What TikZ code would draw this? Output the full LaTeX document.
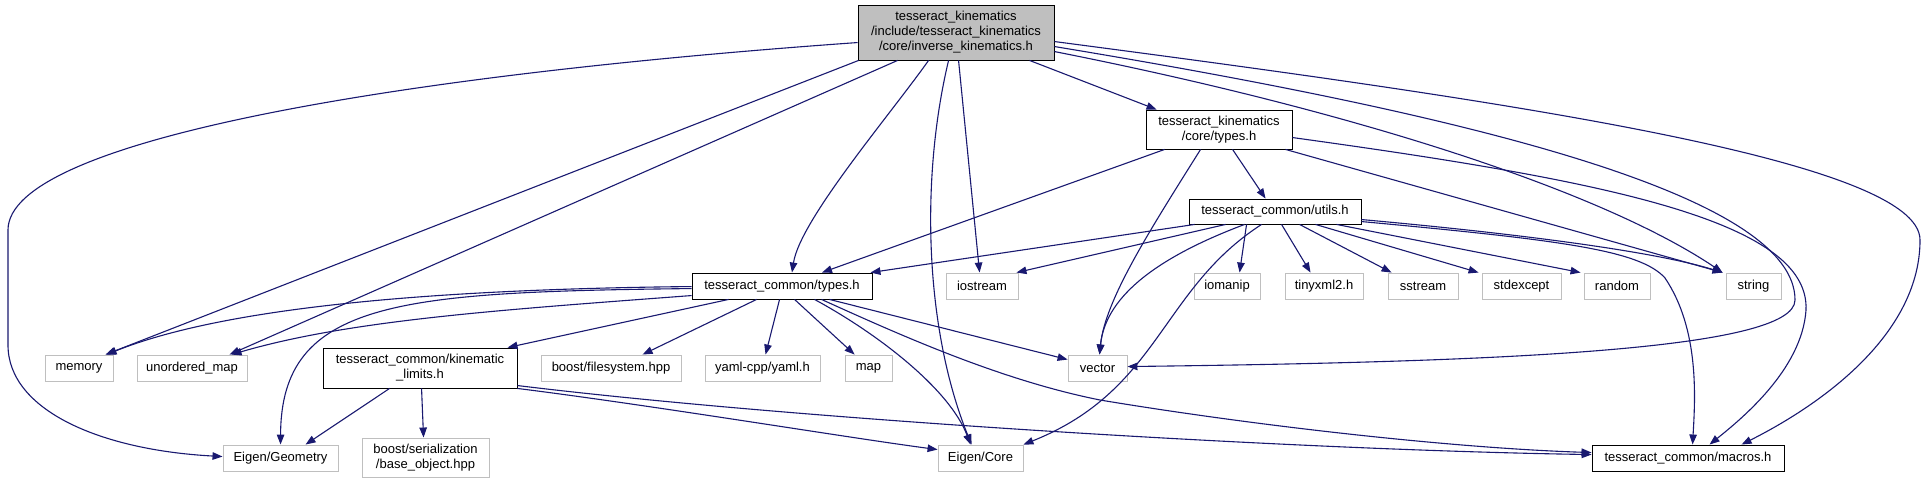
\documentclass[tikz,border=0pt]{standalone}
\usepackage{fontspec}
\setmainfont{Liberation Sans}
\usetikzlibrary{arrows.meta}
\definecolor{nodegrey}{HTML}{BFBFBF}
\definecolor{edgeblue}{HTML}{191970}
\tikzset{
  box/.style={draw, line width=0.9pt, inner sep=0pt, align=center, font=\fontsize{13}{15}\selectfont, text=black},
  gbox/.style={box, draw=nodegrey, fill=white},
  bbox/.style={box, draw=black, fill=white},
  mbox/.style={box, draw=black, fill=nodegrey},
  edge/.style={draw=edgeblue, line width=1.1pt, -{Triangle[length=10pt,width=7.5pt]}},
}
\begin{document}
\begin{tikzpicture}[x=1pt,y=-1pt]
\useasboundingbox[fill=white] (0,0) rectangle (1926,484);
% edges first (under nodes)
\begin{scope}[on background layer/.style={}]
\end{scope}
% nodes
\node[mbox, minimum width=196pt, minimum height=55pt] (main) at (956,32.5) {tesseract\_kinematics\\/include/tesseract\_kinematics\\/core/inverse\_kinematics.h};
\node[bbox, minimum width=146pt, minimum height=39pt] (ktypes) at (1219,129.5) {tesseract\_kinematics\\/core/types.h};
\node[bbox, minimum width=172pt, minimum height=25pt] (utils) at (1275,211.5) {tesseract\_common/utils.h};
\node[bbox, minimum width=180pt, minimum height=26pt] (ctypes) at (782,286) {tesseract\_common/types.h};
\node[gbox, minimum width=72pt, minimum height=26pt] (iostream) at (982,286) {iostream};
\node[gbox, minimum width=66pt, minimum height=26pt] (iomanip) at (1227,286) {iomanip};
\node[gbox, minimum width=78pt, minimum height=26pt] (tinyxml) at (1324,286) {tinyxml2.h};
\node[gbox, minimum width=70pt, minimum height=26pt] (sstream) at (1423,286) {sstream};
\node[gbox, minimum width=79pt, minimum height=26pt] (stdexcept) at (1521.5,286) {stdexcept};
\node[gbox, minimum width=66pt, minimum height=26pt] (random) at (1617,286) {random};
\node[gbox, minimum width=55pt, minimum height=26pt] (string) at (1753.5,286) {string};
\node[gbox, minimum width=68pt, minimum height=26pt] (memory) at (79,368) {memory};
\node[gbox, minimum width=110pt, minimum height=26pt] (umap) at (192,368) {unordered\_map};
\node[bbox, minimum width=194pt, minimum height=40pt] (klimits) at (420,368) {tesseract\_common/kinematic\\\_limits.h};
\node[gbox, minimum width=140pt, minimum height=26pt] (bfs) at (611,368) {boost/filesystem.hpp};
\node[gbox, minimum width=115pt, minimum height=26pt] (yaml) at (762.5,368) {yaml-cpp/yaml.h};
\node[gbox, minimum width=47pt, minimum height=26pt] (map) at (868.5,368) {map};
\node[gbox, minimum width=59pt, minimum height=26pt] (vector) at (1097.5,368) {vector};
\node[gbox, minimum width=115pt, minimum height=26pt] (egeom) at (280.5,458) {Eigen/Geometry};
\node[gbox, minimum width=127pt, minimum height=39pt] (bser) at (425.5,457.5) {boost/serialization\\/base\_object.hpp};
\node[gbox, minimum width=85pt, minimum height=26pt] (ecore) at (980.5,458) {Eigen/Core};
\node[bbox, minimum width=192pt, minimum height=26pt] (macros) at (1688,458) {tesseract\_common/macros.h};

% main edges
\draw[edge] ([yshift=-38pt]main.north west) .. controls (400,75) and (8,140) .. (8,230) -- (8,345) .. controls (8,410) and (100,450) .. ([yshift=-12pt]egeom.north west);
\draw[edge] ([xshift=1pt]main.south west) -- ([xshift=61pt]memory.north west);
\draw[edge] ([xshift=40pt]main.south west) -- ([xshift=93pt]umap.north west);
\draw[edge] ([xshift=71pt]main.south west) .. controls (890,115) and (800,220) .. ([xshift=10pt]ctypes.north);
\draw[edge] ([xshift=91pt]main.south west) .. controls (920,180) and (925,330) .. ([xshift=34pt]ecore.north west);
\draw[edge] ([xshift=101pt]main.south west) -- ([xshift=34pt]iostream.north west);
\draw[edge] ([xshift=172pt]main.south west) -- ([xshift=11pt]ktypes.north west);
\draw[edge] ([yshift=-47pt]main.north east) .. controls (1350,110) and (1600,190) .. ([xshift=-3pt]string.north west);
\draw[edge] ([yshift=-42pt]main.north east) .. controls (1500,120) and (1795,200) .. (1795,300) .. controls (1795,350) and (1500,362) .. ([yshift=-12pt]vector.north east);
\draw[edge] ([yshift=-37pt]main.north east) .. controls (1500,100) and (1920,160) .. (1920,240) .. controls (1920,330) and (1830,400) .. ([xshift=150pt]macros.north west);
% ktypes edges
\draw[edge] ([xshift=19pt]ktypes.south west) -- ([xshift=40pt]ctypes.north);
\draw[edge] ([xshift=55pt]ktypes.south west) .. controls (1150,230) and (1105,300) .. ([xshift=32pt]vector.north west);
\draw[edge] ([xshift=87pt]ktypes.south west) -- ([xshift=77pt]utils.north west);
\draw[edge] ([xshift=140pt]ktypes.south west) -- ([xshift=-3pt]string.north west);
\draw[edge] ([yshift=-28pt]ktypes.north east) .. controls (1600,180) and (1810,220) .. (1806,310) .. controls (1802,370) and (1740,420) .. ([xshift=118pt]macros.north west);
% utils edges
\draw[edge] ([xshift=6pt]utils.south west) -- ([xshift=-2pt]ctypes.north east);
\draw[edge] ([xshift=37pt]utils.south west) -- ([xshift=-2pt]iostream.north east);
\draw[edge] ([xshift=56pt]utils.south west) .. controls (1150,260) and (1105,300) .. ([xshift=32pt]vector.north west);
\draw[edge] ([xshift=73pt]utils.south west) .. controls (1160,290) and (1160,390) .. (ecore.north east);
\draw[edge] ([xshift=58pt]utils.south west) -- ([xshift=46pt]iomanip.north west);
\draw[edge] ([xshift=93pt]utils.south west) -- ([xshift=26pt]tinyxml.north west);
\draw[edge] ([xshift=111pt]utils.south west) -- ([xshift=4pt]sstream.north west);
\draw[edge] ([xshift=127pt]utils.south west) -- ([xshift=-3pt]stdexcept.north west);
\draw[edge] ([xshift=148pt]utils.south west) -- ([xshift=-3pt]random.north west);
\draw[edge] ([yshift=-21pt]utils.north east) .. controls (1500,232) and (1650,250) .. ([xshift=-3pt]string.north west);
\draw[edge] ([yshift=-23pt]utils.north east) .. controls (1560,240) and (1640,250) .. (1665,278) .. controls (1700,330) and (1695,400) .. ([xshift=101pt]macros.north west);
% ctypes edges
\draw[edge] ([yshift=-14pt]ctypes.north west) .. controls (450,289) and (230,305) .. ([xshift=62pt]memory.north west);
\draw[edge] ([yshift=-23pt]ctypes.north west) .. controls (500,310) and (350,320) .. ([xshift=95pt]umap.north west);
\draw[edge] ([yshift=-16pt]ctypes.north west) .. controls (400,292) and (281,300) .. ([xshift=58pt]egeom.north west);
\draw[edge] ([xshift=37pt]ctypes.south west) -- ([xshift=185pt]klimits.north west);
\draw[edge] ([xshift=65pt]ctypes.south west) -- ([xshift=102pt]bfs.north west);
\draw[edge] ([xshift=88pt]ctypes.south west) -- ([xshift=61pt]yaml.north west);
\draw[edge] ([xshift=103pt]ctypes.south west) -- ([xshift=10pt]map.north west);
\draw[edge] ([xshift=123pt]ctypes.south west) .. controls (880,335) and (950,390) .. ([xshift=33pt]ecore.north west);
\draw[edge] ([xshift=138pt]ctypes.south west) -- ([yshift=-5pt]vector.north west);
\draw[edge] ([xshift=130pt]ctypes.south west) .. controls (900,335) and (1000,380) .. (1100,400) .. controls (1250,425) and (1450,448) .. ([yshift=-8pt]macros.north west);
% klimits edges
\draw[edge] ([xshift=67pt]klimits.south west) -- ([xshift=83pt]egeom.north west);
\draw[edge] ([xshift=99pt]klimits.south west) -- ([xshift=62pt]bser.north west);
\draw[edge] (klimits.south east) .. controls (650,405) and (850,438) .. ([yshift=-5pt]ecore.north west);
\draw[edge] ([yshift=-38pt]klimits.north east) .. controls (800,420) and (1300,450) .. ([yshift=-10pt]macros.north west);
\end{tikzpicture}
\end{document}
